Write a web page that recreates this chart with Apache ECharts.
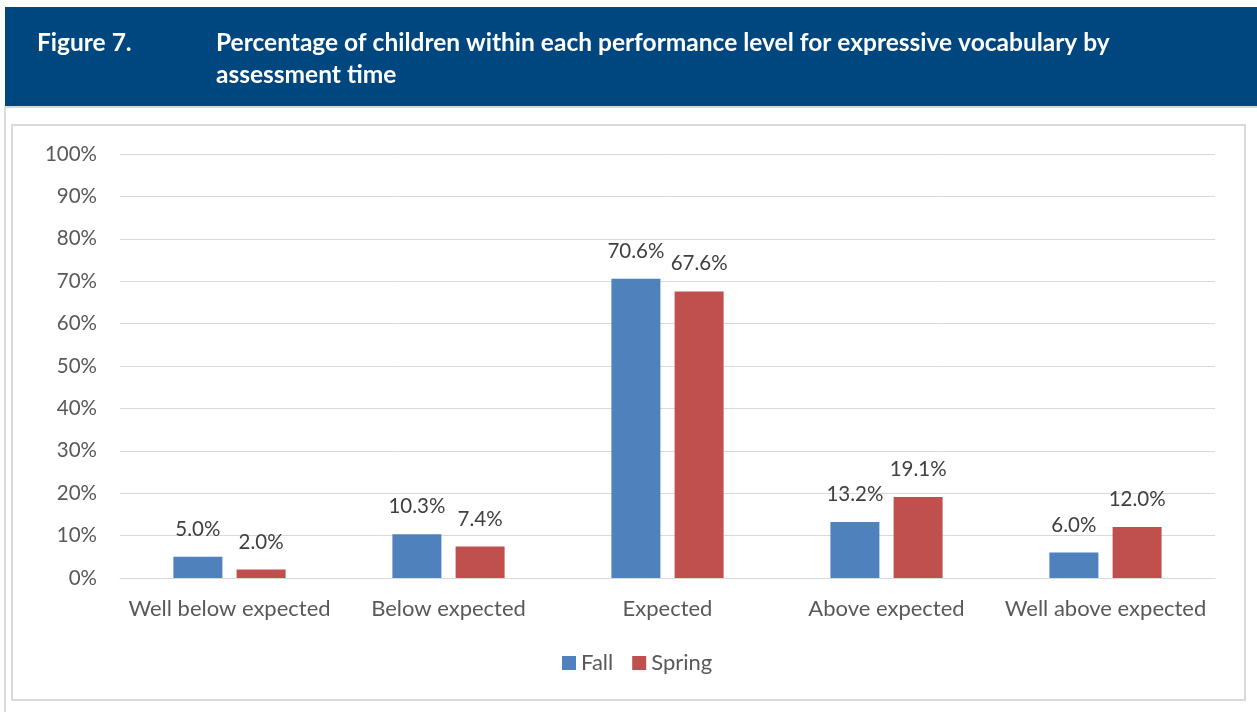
<!DOCTYPE html>
<html>
<head>
<meta charset="utf-8">
<script src="https://cdn.jsdelivr.net/npm/echarts@6/dist/echarts.min.js"></script>
<style>
html,body{margin:0;padding:0;background:#fff;}
#chart{width:1257px;height:712px;}
</style>
</head>
<body>
<div id="chart"></div>
<script>
// Performance levels and percentages per assessment time
const categories = ['Well below expected', 'Below expected', 'Expected', 'Above expected', 'Well above expected'];
const fallValues = [5.0, 10.3, 70.6, 13.2, 6.0];
const springValues = [2.0, 7.4, 67.6, 19.1, 12.0];
const seriesNames = ['Fall', 'Spring'];
const figureLabel = 'Figure 7.';
const figureTitle = ['Percentage of children within each performance level for expressive vocabulary by', 'assessment time'];

const FONT = 'Lato, "Open Sans", sans-serif';
const chart = echarts.init(document.getElementById('chart'), null, {renderer: 'canvas'});

const labelStyle = {
  show: true,
  position: 'top',
  distance: 17,
  color: '#404040',
  fontFamily: FONT,
  fontSize: 20.5,
  formatter: p => p.value.toFixed(1) + '%'
};

chart.setOption({
  animation: false,
  graphic: [
    // header band
    {type: 'rect', shape: {x: 5, y: 7, width: 1252, height: 100}, style: {fill: '#00467F'}, z: 0},
    {type: 'rect', shape: {x: 5, y: 106, width: 1252, height: 2}, style: {fill: '#d9d9d9'}, z: 0},
    // left rule of the figure frame
    {type: 'rect', shape: {x: 4, y: 106, width: 2, height: 606}, style: {fill: '#dcdcdc'}, z: 0},
    // chart box
    {type: 'rect', shape: {x: 12, y: 125, width: 1233, height: 575}, style: {fill: '#fff', stroke: '#d9d9d9', lineWidth: 2}, z: 0},
    {type: 'text', left: 37, top: 27, style: {text: figureLabel, fill: '#fff', font: 'bold 24.5px ' + FONT, lineHeight: 32}, z: 5},
    {type: 'text', left: 216, top: 27, style: {text: figureTitle.join('\n'), fill: '#fff', font: 'bold 24.5px ' + FONT, lineHeight: 32}, z: 5}
  ],
  legend: {
    data: seriesNames,
    top: 647,
    left: 557,
    itemWidth: 14,
    itemHeight: 14,
    itemGap: 19,
    icon: 'rect',
    textStyle: {color: '#595959', fontFamily: FONT, fontSize: 22, padding: [0, 0, 0, 0]}
  },
  grid: {left: 120, right: 42, top: 154, bottom: 134, containLabel: false},
  xAxis: {
    type: 'category',
    data: categories,
    axisLine: {show: true, lineStyle: {color: '#d9d9d9', width: 1}},
    axisTick: {show: false},
    axisLabel: {interval: 0, color: '#595959', fontFamily: FONT, fontSize: 22, margin: 20}
  },
  yAxis: {
    type: 'value',
    min: 0,
    max: 100,
    interval: 10,
    axisLine: {show: false},
    axisTick: {show: false},
    splitLine: {lineStyle: {color: '#d9d9d9', width: 1}},
    axisLabel: {color: '#595959', fontFamily: FONT, fontSize: 20.5, margin: 23, formatter: v => v + '%'}
  },
  series: [
    {name: seriesNames[0], type: 'bar', data: fallValues, barWidth: 49, barGap: '29%', itemStyle: {color: '#4F81BD'}, label: labelStyle},
    {name: seriesNames[1], type: 'bar', data: springValues, barWidth: 49, barGap: '29%', itemStyle: {color: '#C0504D'}, label: labelStyle}
  ]
});
</script>
</body>
</html>
